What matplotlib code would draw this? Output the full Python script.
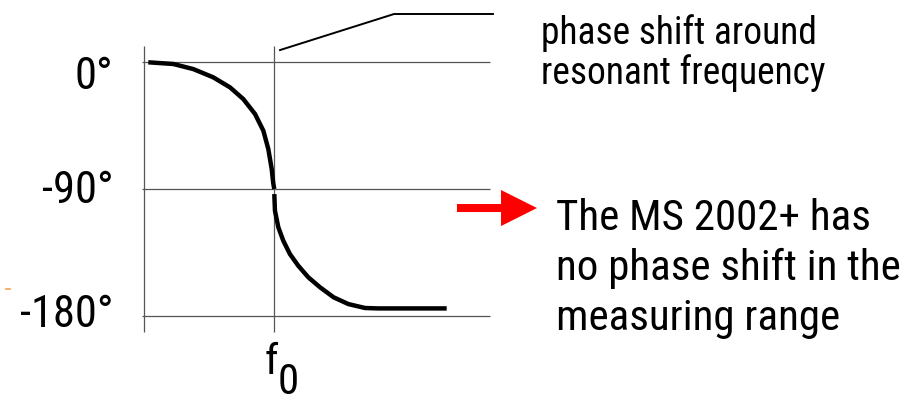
import matplotlib
matplotlib.use("Agg")
import matplotlib.pyplot as plt
from matplotlib import font_manager
from matplotlib.patches import FancyArrow

# narrow sans face for all labels
names = {f.name for f in font_manager.fontManager.ttflist}
if "Roboto Condensed" in names:
    FONT = dict(family="Roboto Condensed")
else:
    FONT = dict(family="DejaVu Sans", stretch="condensed")

# phase response, x in units of f0, y in degrees
x_upper = [0.033, 0.225, 0.378, 0.532, 0.660, 0.762, 0.852, 0.916, 0.954, 0.980, 0.992, 1.000]
y_upper = [0.0, -1.2, -4.8, -10.7, -17.8, -26.1, -36.7, -48.6, -61.6, -75.8, -86.0, -90.0]
x_lower = [1.000, 1.005, 1.031, 1.069, 1.120, 1.184, 1.261, 1.351, 1.455, 1.568, 1.696, 1.798, 2.323]
y_lower = [-93.6, -105.4, -117.2, -126.7, -136.2, -144.5, -152.7, -159.8, -166.9, -171.7, -174.5, -174.8, -174.8]

tick_values = [0, -90, -180]
tick_labels = ["0°", "-90°", "-180°"]
note_lines = ["phase shift around", "resonant frequency"]
claim_lines = ["The MS 2002+ has", "no phase shift in the", "measuring range"]

fig = plt.figure(figsize=(9.14, 4.06), dpi=100)
ax = fig.add_axes([0, 0, 1, 1])
ax.set_xlim(-1.1051, 5.9094)
ax.set_ylim(-243.4, 44.96)
ax.axis("off")

# frame: left axis, f0 marker, level lines
ax.vlines([0, 1], -191.6, 11.8, color="#555555", lw=0.9)
ax.hlines(tick_values, -0.015, 2.655, color="#555555", lw=0.9)

ax.plot(x_upper, y_upper, color="black", lw=3.2, solid_capstyle="butt", solid_joinstyle="round")
ax.plot(x_lower, y_lower, color="black", lw=3.2, solid_capstyle="butt", solid_joinstyle="round")

tick_offsets = [-18.3, -9.2, -7.3]
for v, off, lab in zip(tick_values, tick_offsets, tick_labels):
    ax.text(-0.235, v + off, lab, ha="right", va="baseline", fontsize=32, **FONT)

ax.text(0.925, -221.0, "f", ha="left", va="baseline", fontsize=31, **FONT)
ax.text(1.024, -235.0, "0", ha="left", va="baseline", fontsize=31, **FONT)

# callout for the resonance region
ax.plot([1.044, 1.919, 2.678], [8.7, 34.3, 34.3], color="black", lw=1.4)
for i, line in enumerate(note_lines):
    ax.text(3.05, 14.0 - 28.4 * i, line, ha="left", va="baseline", fontsize=27, **FONT)

ax.add_patch(FancyArrow(2.402, -103.5, 0.614, 0, width=5.7, head_width=25.6,
                        head_length=0.276, length_includes_head=True,
                        color="#ff0000", lw=0))
for i, line in enumerate(claim_lines):
    ax.text(3.16, -118.4 - 35.5 * i, line, ha="left", va="baseline", fontsize=31, **FONT)

# small orange dash at the left margin
ax.plot([-1.059, -1.028], [-160.7, -160.7], color="#f5a050", lw=1.2)

fig.savefig("out.png", dpi=100)
